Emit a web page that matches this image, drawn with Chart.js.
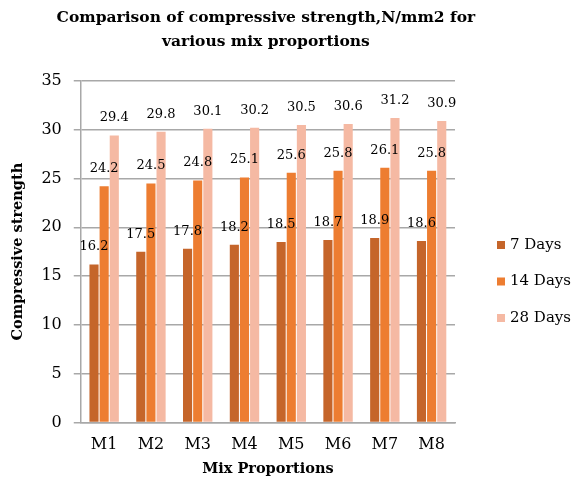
<!DOCTYPE html>
<html>
<head>
<meta charset="utf-8">
<script src="https://cdn.jsdelivr.net/npm/chart.js@4.4.1/dist/chart.umd.min.js"></script>
<style>
  html, body { margin: 0; padding: 0; background: #fff; }
  #wrap { width: 576px; height: 483px; }
</style>
</head>
<body>
<div id="wrap"><canvas id="chart"></canvas></div>
<script>
// data
const mixes = ["M1", "M2", "M3", "M4", "M5", "M6", "M7", "M8"];
const days7 = [16.2, 17.5, 17.8, 18.2, 18.5, 18.7, 18.9, 18.6];
const days14 = [24.2, 24.5, 24.8, 25.1, 25.6, 25.8, 26.1, 25.8];
const days28 = [29.4, 29.8, 30.1, 30.2, 30.5, 30.6, 31.2, 30.9];
const seriesNames = ["7 Days", "14 Days", "28 Days"];
const seriesColors = ["#C5652A", "#ED7D31", "#F5B9A3"];
const titleLines = ["Comparison of compressive strength,N/mm2 for", "various mix proportions"];

const serif = "'DejaVu Serif', serif";
const gridGray = "#A8A8A8";

// value labels above each bar
const barLabels = {
  id: "barLabels",
  afterDatasetsDraw(chart) {
    const ctx = chart.ctx;
    ctx.save();
    ctx.font = "13px " + serif;
    ctx.fillStyle = "#000";
    ctx.textAlign = "center";
    ctx.textBaseline = "bottom";
    chart.data.datasets.forEach((ds, i) => {
      chart.getDatasetMeta(i).data.forEach((bar, j) => {
        ctx.fillText(ds.data[j].toFixed(1), bar.x, bar.y - 11);
      });
    });
    ctx.restore();
  }
};

// title centred over the plot, legend on the right
const titleAndLegend = {
  id: "titleAndLegend",
  afterDraw(chart) {
    const ctx = chart.ctx;
    const area = chart.chartArea;
    ctx.save();
    ctx.fillStyle = "#000";
    ctx.textAlign = "center";
    ctx.textBaseline = "alphabetic";
    ctx.font = "bold 15.5px " + serif;
    const cx = (area.left + area.right) / 2 - 2;
    ctx.fillText(titleLines[0], cx, 22);
    ctx.fillText(titleLines[1], cx, 46);

    ctx.textAlign = "left";
    ctx.textBaseline = "middle";
    ctx.font = "15px " + serif;
    chart.data.datasets.forEach((ds, i) => {
      const y = 245 + i * 36.5;
      ctx.fillStyle = ds.backgroundColor;
      ctx.fillRect(497, y - 4, 8, 8);
      ctx.fillStyle = "#000";
      ctx.fillText(ds.label, 510, y);
    });
    ctx.restore();
  }
};

new Chart(document.getElementById("chart"), {
  type: "bar",
  data: {
    labels: mixes,
    datasets: [
      { label: seriesNames[0], data: days7, backgroundColor: seriesColors[0] },
      { label: seriesNames[1], data: days14, backgroundColor: seriesColors[1] },
      { label: seriesNames[2], data: days28, backgroundColor: seriesColors[2] }
    ]
  },
  options: {
    responsive: true,
    maintainAspectRatio: false,
    animation: false,
    layout: { padding: { top: 81, right: 0, bottom: 1, left: 6 } },
    datasets: {
      bar: { categoryPercentage: 0.65, barPercentage: 0.9 }
    },
    plugins: {
      title: { display: false },
      legend: { display: false },
      tooltip: { enabled: false }
    },
    scales: {
      x: {
        grid: { display: false },
        border: { display: true, color: gridGray, width: 1.5 },
        ticks: { color: "#000", font: { family: serif, size: 16 }, padding: 5 },
        title: {
          display: true,
          text: "Mix Proportions",
          color: "#000",
          font: { family: serif, size: 14.5, weight: "bold" },
          padding: { top: 1 }
        }
      },
      y: {
        min: 0,
        max: 35,
        ticks: { stepSize: 5, color: "#000", font: { family: serif, size: 16 }, padding: 12 },
        grid: { color: gridGray, lineWidth: 1.5, tickLength: 7 },
        border: { display: true, color: gridGray, width: 1.5 },
        title: {
          display: true,
          text: "Compressive strength",
          color: "#000",
          font: { family: serif, size: 14.5, weight: "bold" },
          padding: { bottom: 2 }
        }
      },
      gap: {
        position: "right",
        display: true,
        grid: { display: false },
        border: { display: false },
        ticks: { display: false },
        afterFit(s) { s.width = 121; }
      }
    }
  },
  plugins: [barLabels, titleAndLegend]
});
</script>
</body>
</html>
